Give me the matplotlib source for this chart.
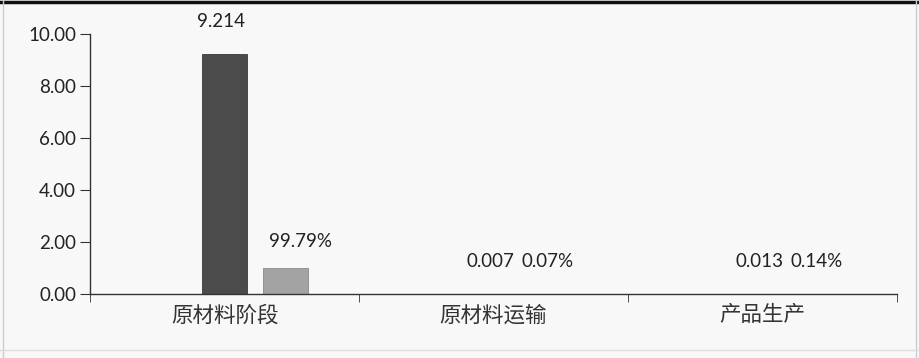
import numpy as np
import matplotlib.pyplot as plt
from matplotlib.ticker import FixedLocator, FormatStrFormatter

categories = ['原材料阶段', '原材料运输', '产品生产']
values = [9.214, 0.007, 0.013]
shares = [0.9979, 0.0007, 0.0014]
value_labels = ['9.214', '0.007', '0.013']
share_labels = ['99.79%', '0.07%', '0.14%']

plt.rcParams['font.family'] = ['Lato', 'Noto Sans CJK SC', 'DejaVu Sans']

W, H = 919, 358
fig = plt.figure(figsize=(W / 100, H / 100), dpi=100, facecolor='#f8f8f8')
ax = fig.add_axes([90 / W, 1 - 294 / H, (897 - 90) / W, (294 - 34) / H])
ax.set_facecolor('#f8f8f8')

x = np.arange(len(categories))
width = 0.168
ax.bar(x, values, width, color='#4b4b4b', edgecolor='#3a3a3a', linewidth=0.6)
ax.bar(x + 0.227, shares, width, color='#a3a3a3', edgecolor='#8a8a8a', linewidth=0.6)

for i in range(len(categories)):
    ax.annotate(value_labels[i], (x[i] - 0.012, values[i]), xytext=(0, 24 if i == 0 else 24),
                textcoords='offset pixels', ha='center', va='bottom', fontsize=13.5, color='#222222')
    dx = 0.284 if i == 0 else 0.2
    ax.annotate(share_labels[i], (x[i] + dx, shares[i]), xytext=(0, 18 if i == 0 else 24),
                textcoords='offset pixels', ha='center', va='bottom', fontsize=13.5, color='#222222')

ax.set_xlim(-0.5, len(categories) - 0.5)
ax.set_ylim(0, 10)
ax.set_yticks(np.arange(0, 10.01, 2))
ax.yaxis.set_major_formatter(FormatStrFormatter('%.2f'))
ax.set_xticks(x)
ax.set_xticklabels(categories, fontsize=15.5, color='#333333')
ax.xaxis.set_minor_locator(FixedLocator(np.arange(-0.5, len(categories), 1.0)))
ax.tick_params(axis='x', which='major', length=0, pad=8)
ax.tick_params(axis='x', which='minor', length=6, direction='out', color='#333333')
ax.tick_params(axis='y', length=7, direction='out', labelsize=13.5, color='#333333',
               labelcolor='#222222', pad=3)

for s in ['top', 'right']:
    ax.spines[s].set_visible(False)
for s in ['left', 'bottom']:
    ax.spines[s].set_color('#333333')
    ax.spines[s].set_linewidth(1.0)

# scan frame
fig.add_artist(plt.Line2D([0, 1], [1 - 2 / H, 1 - 2 / H], color='#111111', linewidth=2.5))
fig.add_artist(plt.Line2D([3 / W, 3 / W], [0, 1], color='#cccccc', linewidth=1))
fig.add_artist(plt.Line2D([1 - 3 / W, 1 - 3 / W], [0, 1], color='#cccccc', linewidth=1))
fig.add_artist(plt.Line2D([0, 1], [8 / H, 8 / H], color='#dddddd', linewidth=1))

fig.savefig('out.png', dpi=100, facecolor=fig.get_facecolor())
